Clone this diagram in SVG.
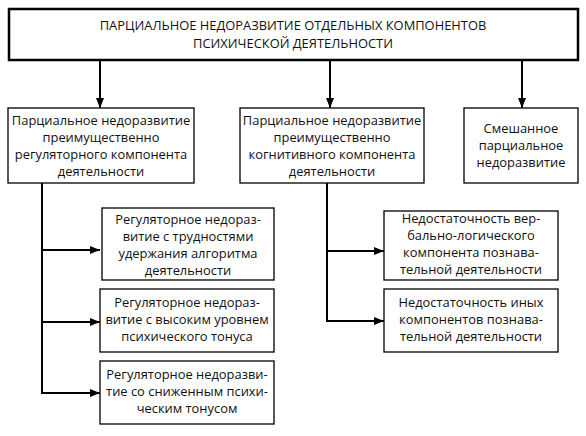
<svg xmlns="http://www.w3.org/2000/svg" width="586" height="436" viewBox="0 0 586 436">
<defs>
<marker id="ah" viewBox="0 0 10 8" refX="10" refY="4" markerWidth="10" markerHeight="8" markerUnits="userSpaceOnUse" orient="auto">
<path d="M0,0 L10,4 L0,8 Z" fill="#000"/>
</marker>
<style>
rect.n{fill:#fff;stroke:#000;stroke-width:1.3}
rect.top{fill:#fff;stroke:#000;stroke-width:2.5}
text{font-family:"Open Sans","Noto Sans","DejaVu Sans",sans-serif;font-size:12.9px;fill:#111;text-anchor:middle}
.c{fill:none;stroke:#000;stroke-width:2}
</style>
</defs>
<rect width="586" height="436" style="fill:#fff;stroke:none"/>
<g id="connectors">
<line class="c" x1="100" y1="60" x2="100" y2="108" marker-end="url(#ah)"/>
<line class="c" x1="330" y1="60" x2="330" y2="108" marker-end="url(#ah)"/>
<line class="c" x1="522" y1="60" x2="522" y2="108" marker-end="url(#ah)"/>
<polyline class="c" points="42,183 42,393"/>
<line class="c" x1="41" y1="250" x2="100" y2="250" marker-end="url(#ah)"/>
<line class="c" x1="41" y1="322" x2="100" y2="322" marker-end="url(#ah)"/>
<line class="c" x1="41" y1="393" x2="100" y2="393" marker-end="url(#ah)"/>
<polyline class="c" points="327,183 327,321"/>
<line class="c" x1="326" y1="251" x2="384" y2="251" marker-end="url(#ah)"/>
<line class="c" x1="326" y1="321" x2="384" y2="321" marker-end="url(#ah)"/>
</g>
<g id="root">
<rect class="top" x="9" y="9" width="569" height="51"/>
<text x="293" y="30">ПАРЦИАЛЬНОЕ НЕДОРАЗВИТИЕ ОТДЕЛЬНЫХ КОМПОНЕНТОВ</text>
<text x="293" y="48">ПСИХИЧЕСКОЙ ДЕЯТЕЛЬНОСТИ</text>
</g>
<g id="reg">
<rect class="n" x="8" y="108" width="186" height="75"/>
<text x="101" y="125">Парциальное недоразвитие</text>
<text x="101" y="142">преимущественно</text>
<text x="101" y="159">регуляторного компонента</text>
<text x="101" y="176">деятельности</text>
</g>
<g id="cog">
<rect class="n" x="240" y="108" width="184" height="75"/>
<text x="332" y="125">Парциальное недоразвитие</text>
<text x="332" y="142">преимущественно</text>
<text x="332" y="159">когнитивного компонента</text>
<text x="332" y="176">деятельности</text>
</g>
<g id="mixed">
<rect class="n" x="464" y="108" width="114" height="75"/>
<text x="521" y="133">Смешанное</text>
<text x="521" y="150">парциальное</text>
<text x="521" y="167">недоразвитие</text>
</g>
<g id="regA">
<rect class="n" x="102" y="208" width="172" height="72"/>
<text x="188" y="224">Регуляторное недораз-</text>
<text x="188" y="241">витие с трудностями</text>
<text x="188" y="258">удержания алгоритма</text>
<text x="188" y="275">деятельности</text>
</g>
<g id="regB">
<rect class="n" x="100" y="289" width="174" height="63"/>
<text x="187" y="307">Регуляторное недораз-</text>
<text x="187" y="324">витие с высоким уровнем</text>
<text x="187" y="341">психического тонуса</text>
</g>
<g id="regC">
<rect class="n" x="100" y="361" width="174" height="63"/>
<text x="187" y="379">Регуляторное недоразви-</text>
<text x="187" y="396">тие со сниженным психи-</text>
<text x="187" y="413">ческим тонусом</text>
</g>
<g id="cogA">
<rect class="n" x="384" y="211" width="174" height="69"/>
<text x="471" y="223">Недостаточность вер-</text>
<text x="471" y="240">бально-логического</text>
<text x="471" y="257">компонента познава-</text>
<text x="471" y="274">тельной деятельности</text>
</g>
<g id="cogB">
<rect class="n" x="384" y="289" width="174" height="63"/>
<text x="471" y="307">Недостаточность иных</text>
<text x="471" y="324">компонентов познава-</text>
<text x="471" y="341">тельной деятельности</text>
</g>
</svg>
